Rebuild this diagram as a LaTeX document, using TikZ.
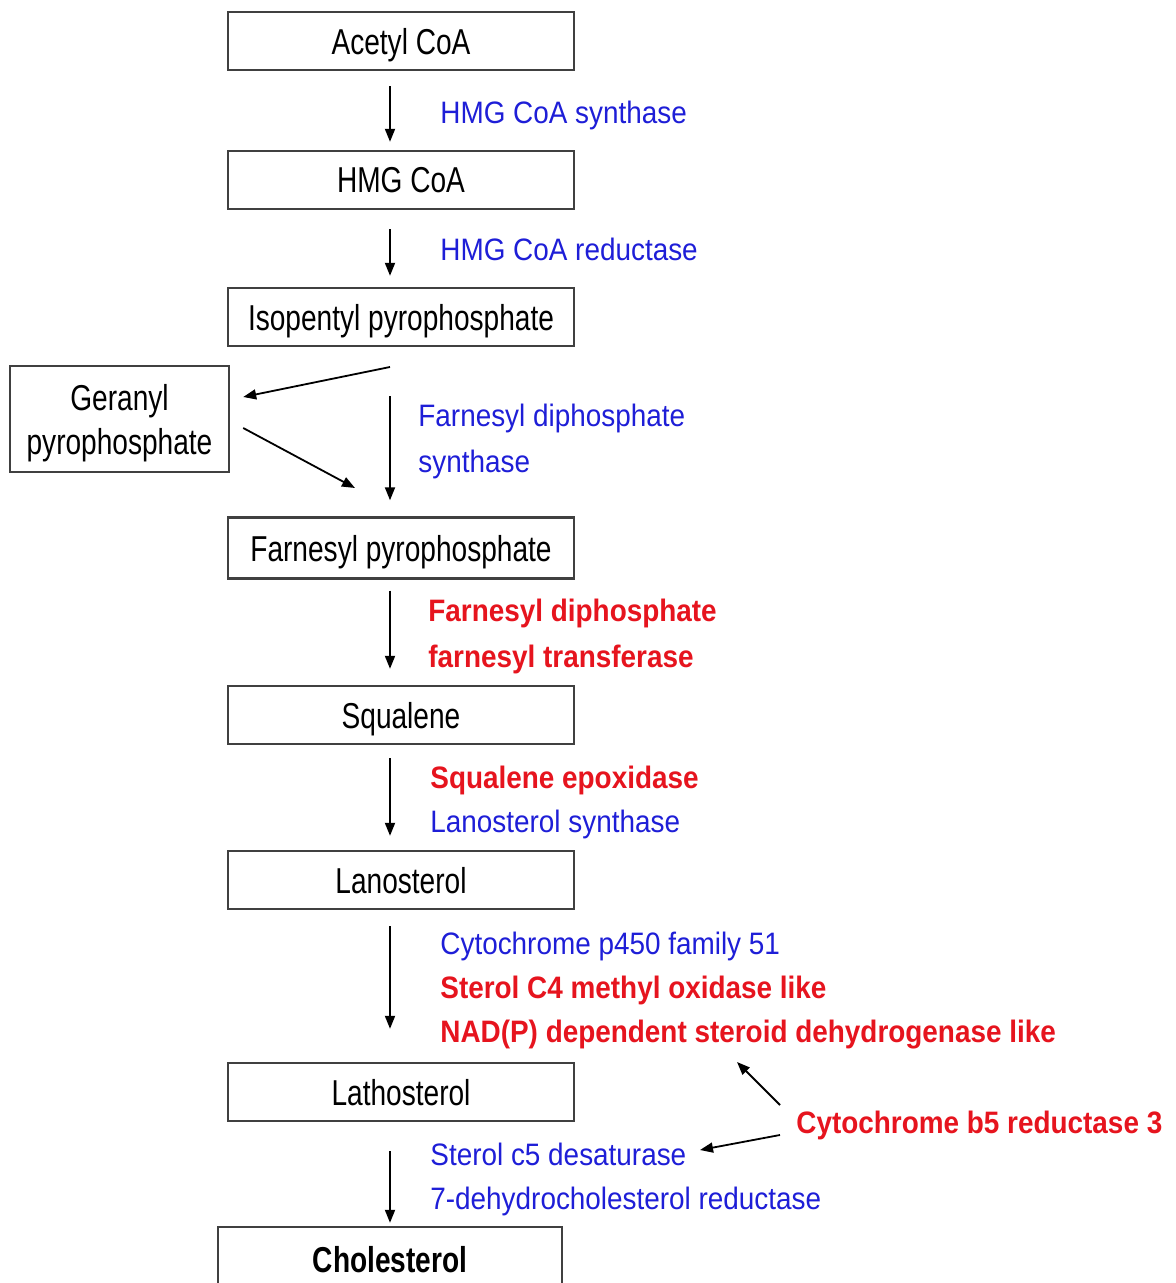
\documentclass[tikz,border=0pt]{standalone}
\usepackage{fontspec}
\setmainfont{Liberation Sans}
\newfontfamily\boxfont[FakeStretch=0.78]{Liberation Sans}
\newfontfamily\enzfont[FakeStretch=0.9]{Liberation Sans}
\usetikzlibrary{arrows.meta}
\definecolor{enzblue}{RGB}{30,30,215}
\definecolor{enzred}{RGB}{230,20,30}

\begin{document}
\begin{tikzpicture}[x=0.5pt,y=-0.5pt,
  metab/.style={draw=black!75,line width=1.2pt,minimum width=173pt,minimum height=29pt,
    inner sep=0pt,text depth=0pt,font=\boxfont\fontsize{18}{22}\selectfont},
  enz/.style={anchor=base west,inner sep=0pt},
  blueenz/.style={enz,text=enzblue,font=\enzfont\fontsize{15.5}{22}\selectfont},
  redenz/.style={enz,text=enzred,font=\enzfont\bfseries\fontsize{15.5}{22}\selectfont},
  flow/.style={-{Triangle[length=6.5pt,width=5pt]},line width=0.9pt}]
\clip (0,0) rectangle (1175,1283);
% metabolites
\node[metab] (acetyl) at (401,41) {Acetyl CoA};
\node[metab] (hmg) at (401,180) {HMG CoA};
\node[metab] (ipp) at (401,317) {Isopentyl pyrophosphate};
\node[metab,minimum width=109.5pt,minimum height=53pt,align=center] (gpp) at (119.5,419) {Geranyl\\pyrophosphate};
\node[metab,minimum height=30.5pt] (fpp) at (401,548) {Farnesyl pyrophosphate};
\node[metab] (squalene) at (401,715) {Squalene};
\node[metab] (lanosterol) at (401,880) {Lanosterol};
\node[metab] (lathosterol) at (401,1092) {Lathosterol};
\node[metab,minimum width=172pt,minimum height=32pt,font=\boxfont\bfseries\fontsize{18}{22}\selectfont] (chol) at (390,1259) {Cholesterol};
% main pathway
\draw[flow,shorten <=7.5pt,shorten >=4pt] (acetyl.south -| chol.north) -- (hmg.north -| chol.north);
\draw[flow,shorten <=9.5pt,shorten >=5.5pt] (hmg.south -| chol.north) -- (ipp.north -| chol.north);
\draw[flow,shorten <=24.5pt,shorten >=8pt] (ipp.south -| chol.north) -- (fpp.north -| chol.north);
\draw[flow,shorten <=5.5pt,shorten >=8pt] (fpp.south -| chol.north) -- (squalene.north -| chol.north);
\draw[flow,shorten <=6.5pt,shorten >=7pt] (squalene.south -| chol.north) -- (lanosterol.north -| chol.north);
\draw[flow,shorten <=8pt,shorten >=16.5pt] (lanosterol.south -| chol.north) -- (lathosterol.north -| chol.north);
\draw[flow,shorten <=14.5pt,shorten >=1.5pt] (lathosterol.south -| chol.north) -- (chol.north);
% geranyl side branch
\coordinate (split) at (390,367);
\coordinate (merge) at (355,488);
\draw[flow] (split) -- ([shift={(13,-22)}]gpp.east);
\draw[flow] ([shift={(13,9)}]gpp.east) -- (merge);
% enzymes
\node[blueenz] (hmgcs) at (440,124) {HMG CoA synthase};
\node[blueenz] (hmgcr) at (440,261) {HMG CoA reductase};
\node[blueenz] (fdpsa) at (418,426) {Farnesyl diphosphate};
\node[blueenz] (fdpsb) at (418,472) {synthase};
\node[redenz] (fdfta) at (428,621) {Farnesyl diphosphate};
\node[redenz] (fdftb) at (428,667) {farnesyl transferase};
\node[redenz] (sqle) at (430,788) {Squalene epoxidase};
\node[blueenz] (lss) at (430,832) {Lanosterol synthase};
\node[blueenz] (cyp) at (440,954) {Cytochrome p450 family 51};
\node[redenz] (sc4mol) at (440,998) {Sterol C4 methyl oxidase like};
\node[redenz] (nsdhl) at (440,1042) {NAD(P) dependent steroid dehydrogenase like};
\node[redenz] (cyb5r) at (796,1133) {Cytochrome b5 reductase 3};
\node[blueenz] (sc5d) at (430,1165) {Sterol c5 desaturase};
\node[blueenz] (dhcr) at (430,1209) {7-dehydrocholesterol reductase};
% cytochrome b5 reductase
\coordinate (b5up) at (737,1062);
\coordinate (b5left) at (700,1150);
\draw[flow] ([shift={(-16,-20)}]cyb5r.west) -- (b5up);
\draw[flow] ([shift={(-16,10)}]cyb5r.west) -- (b5left);
\end{tikzpicture}
\end{document}
